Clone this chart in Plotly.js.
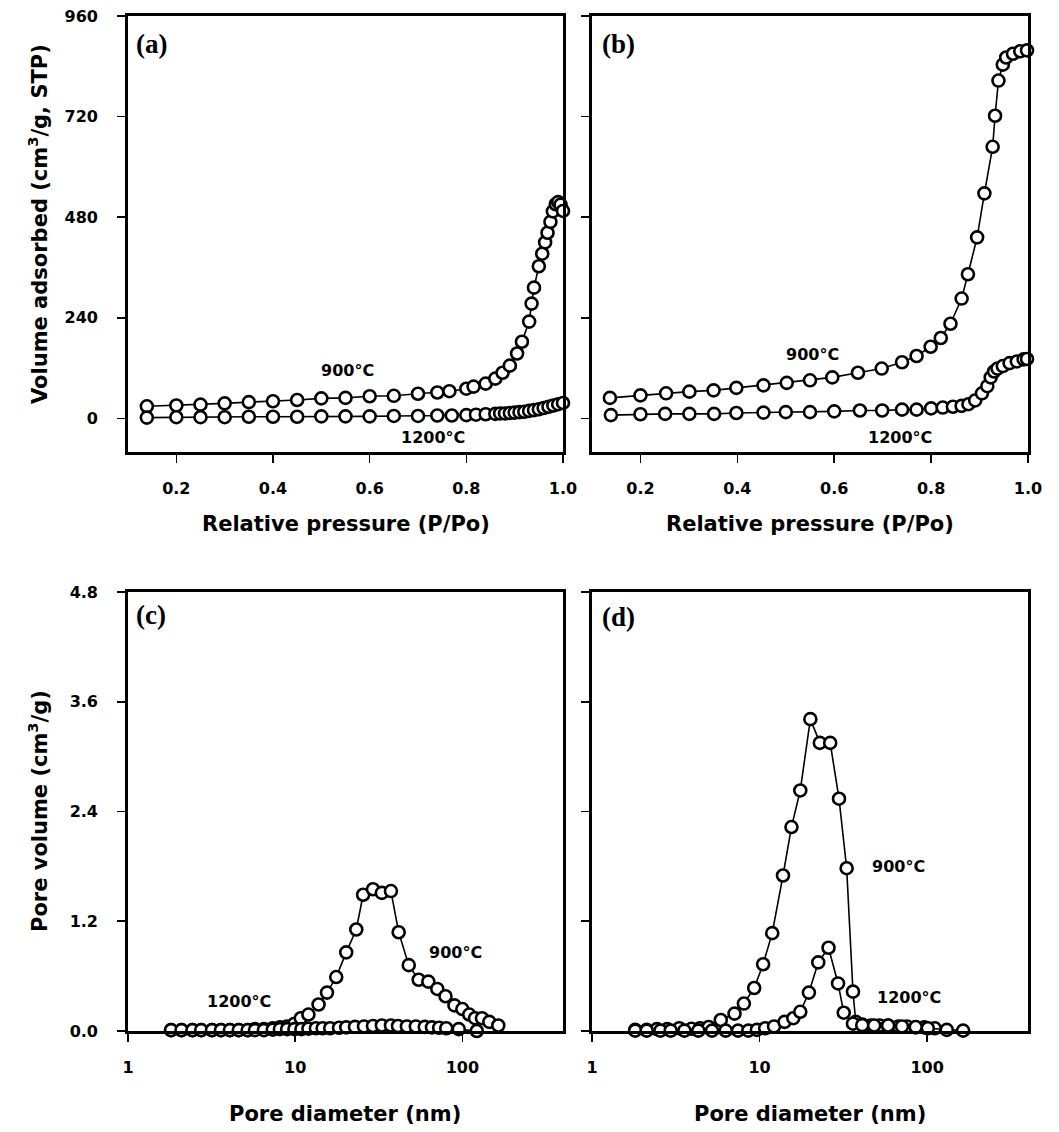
<!DOCTYPE html>
<html>
<head>
<meta charset="utf-8">
<script src="https://cdn.plot.ly/plotly-3.0.1.min.js"></script>
<style>html,body{margin:0;padding:0;background:#fff;}#chart{width:1059px;height:1132px;}</style>
</head>
<body>
<div id="chart"></div>
<script>
// ---- Data ----
// (a) N2 isotherm, sample 1
const a900_x = [0.139,0.20,0.25,0.30,0.35,0.40,0.45,0.50,0.55,0.60,0.65,0.70,0.74,0.765,0.80,0.815,0.84,0.86,0.875,0.89,0.905,0.915,0.93,0.935,0.94,0.95,0.957,0.963,0.968,0.974,0.979,0.985,0.99,0.995,1.0];
const a900_y = [29,31,33,36,39,41,44,48,49,53,54,59,62,65,71,76,83,95,109,126,155,183,231,274,312,363,393,420,443,469,494,511,516,510,495];
const a1200_x = [0.139,0.2,0.25,0.3,0.35,0.4,0.45,0.5,0.55,0.6,0.65,0.7,0.74,0.77,0.8,0.82,0.84,0.86,0.87,0.88,0.89,0.9,0.91,0.92,0.93,0.94,0.95,0.96,0.97,0.98,0.99,1.0];
const a1200_y = [2,3,3,3,4,4,4,5,5,5,6,6,7,7,8,9,10,11,12,12,13,14,15,16,18,20,22,25,28,31,34,37];
// (b) N2 isotherm, sample 2
const b900_x = [0.137,0.2,0.253,0.301,0.351,0.398,0.454,0.502,0.55,0.596,0.649,0.698,0.74,0.77,0.799,0.82,0.84,0.863,0.876,0.895,0.91,0.927,0.932,0.939,0.948,0.955,0.969,0.984,0.998];
const b900_y = [49,55,60,64,67,73,79,85,91,98,109,119,134,149,171,192,226,286,344,432,537,648,722,806,844,861,870,876,878];
const b1200_x = [0.139,0.2,0.251,0.301,0.352,0.398,0.454,0.5,0.55,0.6,0.653,0.699,0.74,0.77,0.8,0.824,0.845,0.863,0.877,0.891,0.905,0.916,0.923,0.93,0.937,0.948,0.962,0.977,0.991,0.998];
const b1200_y = [8,10,11,11,11,13,14,15,15,17,19,19,21,21,24,26,28,30,34,43,60,77,98,112,119,125,132,136,141,142];
// (c) pore size distribution, sample 1
const c900_x = [1.81,2.09,2.43,2.74,3.18,3.6,4.07,4.6,5.2,5.75,6.5,7.35,8.1,8.95,9.9,10.8,12.0,13.8,15.5,17.6,20.2,23.2,25.5,29.2,33.0,37.4,41.6,47.8,54.8,62.6,70.8,79.3,89.7,100,110,119,131,145,164];
const c900_y = [0.01,0.01,0.01,0.01,0.01,0.01,0.01,0.01,0.01,0.02,0.02,0.03,0.04,0.05,0.08,0.14,0.18,0.29,0.42,0.59,0.86,1.11,1.49,1.55,1.51,1.53,1.08,0.72,0.56,0.54,0.46,0.38,0.28,0.24,0.18,0.14,0.14,0.10,0.06];
const c1200_x = [1.81,2.09,2.43,2.74,3.18,3.6,4.07,4.6,5.2,5.75,6.5,7.35,8.1,8.95,9.9,10.9,12.0,13.3,14.6,16.2,18.3,20.2,22.8,25.8,29.2,33.0,37.4,41.2,46.6,52.7,59.6,65.8,72.6,80.1,95.2,122];
const c1200_y = [0.01,0.01,0.01,0.01,0.01,0.01,0.01,0.01,0.01,0.01,0.01,0.015,0.02,0.02,0.02,0.02,0.025,0.03,0.03,0.03,0.035,0.04,0.045,0.05,0.055,0.06,0.06,0.055,0.05,0.05,0.045,0.04,0.035,0.03,0.02,0.0];
// (d) pore size distribution, sample 2
const d900_x = [1.81,2.12,2.44,2.81,3.32,3.92,4.41,4.97,5.87,7.09,8.06,9.29,10.5,11.9,13.8,15.5,17.5,20.1,22.9,26.4,29.8,33.1,36.1,37.5,41.0,46.2,52,58.5,67.4,75.9,85.5,96.2,111];
const d900_y = [0.012,0.012,0.02,0.02,0.03,0.024,0.03,0.044,0.12,0.19,0.30,0.47,0.73,1.07,1.70,2.23,2.63,3.41,3.15,3.15,2.54,1.78,0.43,0.10,0.07,0.06,0.06,0.06,0.05,0.05,0.04,0.04,0.03];
const d1200_x = [1.81,2.12,2.56,2.95,3.56,4.31,5.2,6.28,7.44,8.57,9.64,10.8,12.2,14.1,15.9,17.5,19.7,22.4,25.8,29.4,31.8,36.1,41.0,48.3,58.5,70.8,85.5,101,131,164];
const d1200_y = [0.004,0.004,0.004,0.004,0.004,0.004,0.004,0.004,0.004,0.004,0.012,0.03,0.05,0.10,0.14,0.21,0.42,0.75,0.91,0.52,0.20,0.08,0.064,0.06,0.06,0.05,0.044,0.03,0.012,0.004];

const isoTicks = [0.2,0.4,0.6,0.8,1.0];
const isoTickText = ['0.2','0.4','0.6','0.8','1.0'];
const volTicks = [0,240,480,720,960];
const volTickText = ['0','240','480','720','960'];
const poreTicks = [0,1.2,2.4,3.6,4.8];
const poreTickText = ['0.0','1.2','2.4','3.6','4.8'];
const diaTicks = [1,10,100];
const diaTickText = ['1','10','100'];
const seriesNames = ['900°C','1200°C'];

// ---- Layout helpers ----
const W = 1059, H = 1132;
const px = v => v / W;
const py = v => 1 - v / H;
const SANS = 'DejaVu Sans, Arial, sans-serif';
const tickFont = {family: SANS, size: 16, color: '#000', weight: 'bold'};
const titleFont = {family: SANS, size: 21, color: '#000', weight: 'bold'};
const noteFont = {family: SANS, size: 16, color: '#000', weight: 'bold'};
const panelFont = {family: 'Liberation Serif, Times New Roman, serif', size: 27, color: '#000', weight: 'bold'};

function trace(x, y, xa, ya, name) {
  return {
    x: x, y: y, xaxis: xa, yaxis: ya, name: name, type: 'scatter', mode: 'lines+markers',
    cliponaxis: false, showlegend: false,
    line: {color: '#000', width: 1.6},
    marker: {symbol: 'circle', size: 12, color: '#fff', line: {color: '#000', width: 2.6}}
  };
}
function axisBase(extra) {
  return Object.assign({
    showline: true, linecolor: '#000', linewidth: 2.8, mirror: true,
    ticks: 'outside', ticklen: 8, tickwidth: 1.6, tickcolor: '#000',
    showgrid: false, zeroline: false, tickfont: tickFont, fixedrange: true
  }, extra);
}

const data = [
  trace(a900_x, a900_y, 'x', 'y', seriesNames[0]),
  trace(a1200_x, a1200_y, 'x', 'y', seriesNames[1]),
  trace(b900_x, b900_y, 'x2', 'y2', seriesNames[0]),
  trace(b1200_x, b1200_y, 'x2', 'y2', seriesNames[1]),
  trace(c900_x, c900_y, 'x3', 'y3', seriesNames[0]),
  trace(c1200_x, c1200_y, 'x3', 'y3', seriesNames[1]),
  trace(d900_x, d900_y, 'x4', 'y4', seriesNames[0]),
  trace(d1200_x, d1200_y, 'x4', 'y4', seriesNames[1])
];

const topDom = [py(452), py(16)];
const botDom = [py(1031), py(592)];
const leftDom = [px(128), px(563)];
const rightDom = [px(592), px(1028)];

const layout = {
  width: W, height: H,
  margin: {l: 0, r: 0, t: 0, b: 0},
  paper_bgcolor: '#fff', plot_bgcolor: '#fff',
  showlegend: false,
  xaxis: axisBase({domain: leftDom, anchor: 'y', range: [0.1, 1.0], tickvals: isoTicks, ticktext: isoTickText, ticklabelstandoff: 12}),
  yaxis: axisBase({domain: topDom, anchor: 'x', range: [-80, 960], tickvals: volTicks, ticktext: volTickText, ticklabelstandoff: 16}),
  xaxis2: axisBase({domain: rightDom, anchor: 'y2', range: [0.1, 1.0], tickvals: isoTicks, ticktext: isoTickText, ticklabelstandoff: 12}),
  yaxis2: axisBase({domain: topDom, anchor: 'x2', range: [-80, 960], tickvals: volTicks, showticklabels: false}),
  xaxis3: axisBase({domain: leftDom, anchor: 'y3', type: 'log', range: [0, Math.log10(400)], tickvals: diaTicks, ticktext: diaTickText, ticklabelstandoff: 12}),
  yaxis3: axisBase({domain: botDom, anchor: 'x3', range: [0, 4.8], tickvals: poreTicks, ticktext: poreTickText, ticklabelstandoff: 16}),
  xaxis4: axisBase({domain: rightDom, anchor: 'y4', type: 'log', range: [0, Math.log10(400)], tickvals: diaTicks, ticktext: diaTickText, ticklabelstandoff: 12}),
  yaxis4: axisBase({domain: botDom, anchor: 'x4', range: [0, 4.8], tickvals: poreTicks, showticklabels: false}),
  annotations: [
    // axis titles
    {xref: 'paper', yref: 'paper', x: px(38), y: py(224), text: 'Volume adsorbed (cm<sup>3</sup>/g, STP)', textangle: -90, showarrow: false, font: titleFont, xanchor: 'center', yanchor: 'middle'},
    {xref: 'paper', yref: 'paper', x: px(38), y: py(811), text: 'Pore volume (cm<sup>3</sup>/g)', textangle: -90, showarrow: false, font: titleFont, xanchor: 'center', yanchor: 'middle'},
    {xref: 'paper', yref: 'paper', x: px(346), y: py(524), text: 'Relative pressure (P/Po)', showarrow: false, font: titleFont, xanchor: 'center', yanchor: 'middle'},
    {xref: 'paper', yref: 'paper', x: px(810), y: py(524), text: 'Relative pressure (P/Po)', showarrow: false, font: titleFont, xanchor: 'center', yanchor: 'middle'},
    {xref: 'paper', yref: 'paper', x: px(345), y: py(1114), text: 'Pore diameter (nm)', showarrow: false, font: titleFont, xanchor: 'center', yanchor: 'middle'},
    {xref: 'paper', yref: 'paper', x: px(810), y: py(1114), text: 'Pore diameter (nm)', showarrow: false, font: titleFont, xanchor: 'center', yanchor: 'middle'},
    // panel labels
    {xref: 'paper', yref: 'paper', x: px(134), y: py(44), text: '(a)', showarrow: false, font: panelFont, xanchor: 'left', yanchor: 'middle'},
    {xref: 'paper', yref: 'paper', x: px(600), y: py(44), text: '(b)', showarrow: false, font: panelFont, xanchor: 'left', yanchor: 'middle'},
    {xref: 'paper', yref: 'paper', x: px(134), y: py(615), text: '(c)', showarrow: false, font: panelFont, xanchor: 'left', yanchor: 'middle'},
    {xref: 'paper', yref: 'paper', x: px(600), y: py(617), text: '(d)', showarrow: false, font: panelFont, xanchor: 'left', yanchor: 'middle'},
    // series labels
    {xref: 'x', yref: 'y', x: 0.555, y: 115, text: seriesNames[0], showarrow: false, font: noteFont},
    {xref: 'x', yref: 'y', x: 0.731, y: -45, text: seriesNames[1], showarrow: false, font: noteFont},
    {xref: 'x2', yref: 'y2', x: 0.556, y: 153, text: seriesNames[0], showarrow: false, font: noteFont},
    {xref: 'x2', yref: 'y2', x: 0.735, y: -45, text: seriesNames[1], showarrow: false, font: noteFont},
    {xref: 'x3', yref: 'y3', x: Math.log10(90.6), y: 0.86, text: seriesNames[0], showarrow: false, font: noteFont},
    {xref: 'x3', yref: 'y3', x: Math.log10(4.6), y: 0.32, text: seriesNames[1], showarrow: false, font: noteFont},
    {xref: 'x4', yref: 'y4', x: Math.log10(67.5), y: 1.80, text: seriesNames[0], showarrow: false, font: noteFont},
    {xref: 'x4', yref: 'y4', x: Math.log10(77.8), y: 0.37, text: seriesNames[1], showarrow: false, font: noteFont}
  ]
};

Plotly.newPlot('chart', data, layout, {staticPlot: true, displayModeBar: false});
</script>
</body>
</html>
